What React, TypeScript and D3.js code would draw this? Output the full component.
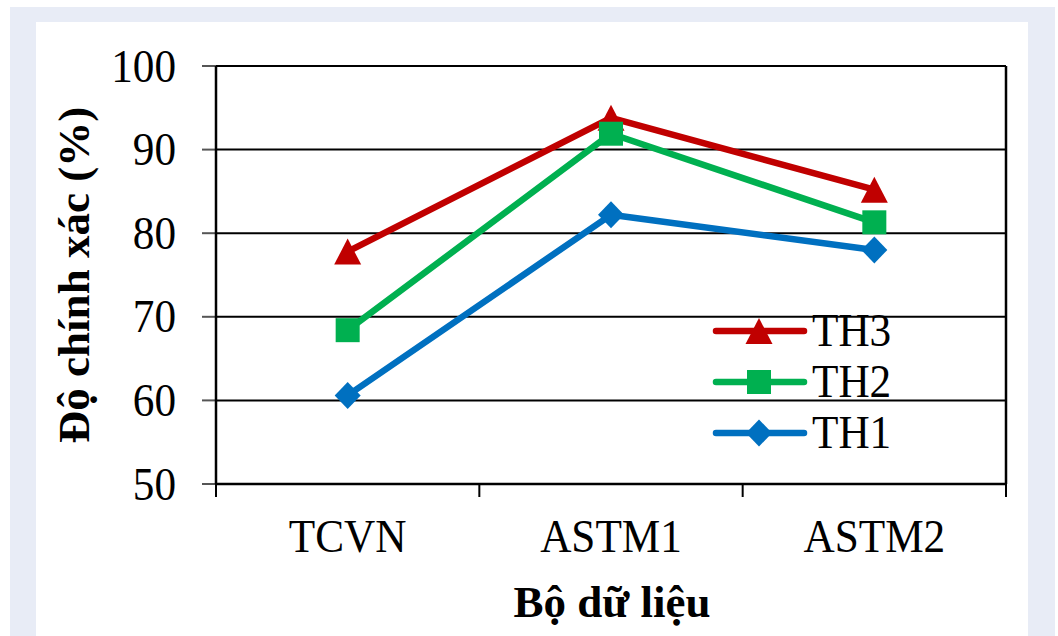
import React from "react";
import * as d3 from "d3";

const categories = ["TCVN", "ASTM1", "ASTM2"];
const seriesNames = ["TH3", "TH2", "TH1"];
const th3 = [77.8, 93.8, 85.2];
const th2 = [68.4, 91.9, 81.3];
const th1 = [60.6, 82.2, 78.0];
const yTicks = [50, 60, 70, 80, 90, 100];

const W = 1058;
const H = 636;
const M = { left: 216, right: 1006, top: 66, bottom: 484 };
const FONT = "'Liberation Serif', 'Times New Roman', serif";
const SX = 0.94;

const series = [
  { name: seriesNames[0], values: th3, color: "#c00000", marker: "triangle" },
  { name: seriesNames[1], values: th2, color: "#00b050", marker: "square" },
  { name: seriesNames[2], values: th1, color: "#0070c0", marker: "diamond" },
];

function Marker({ type, x, y, color }: { type: string; x: number; y: number; color: string }) {
  if (type === "triangle") {
    const w = 27, h = 26;
    return <path d={`M${x},${y - h / 2}L${x + w / 2},${y + h / 2}L${x - w / 2},${y + h / 2}Z`} fill={color} />;
  }
  if (type === "square") {
    const s = 24;
    return <rect x={x - s / 2} y={y - s / 2} width={s} height={s} fill={color} />;
  }
  const w = 26, h = 27;
  return <path d={`M${x},${y - h / 2}L${x + w / 2},${y}L${x},${y + h / 2}L${x - w / 2},${y}Z`} fill={color} />;
}

function SText({ x, y, children, anchor = "middle", size = 46, weight = "normal", sx = SX }: any) {
  return (
    <g transform={`translate(${x},${y}) scale(${sx},1)`}>
      <text x={0} y={0} textAnchor={anchor} fontSize={size} fontWeight={weight} fontFamily={FONT} fill="#000">
        {children}
      </text>
    </g>
  );
}

export default function App() {
  const x = d3.scaleBand().domain(categories).range([M.left, M.right]);
  const y = d3.scaleLinear().domain([50, 100]).range([M.bottom, M.top]);
  const line = d3
    .line<number>()
    .x((_, i) => (x(categories[i]) as number) + x.bandwidth() / 2)
    .y((v) => y(v));
  const bounds = [...categories.map((c) => x(c) as number), M.right];

  const legendY = [331, 382, 433];

  return (
    <div style={{ position: "fixed", left: 0, top: 0 }}>
      <svg width={W} height={H} style={{ display: "block" }}>
        <rect x={0} y={0} width={W} height={H} fill="#fff" />
        <rect x={10} y={7} width={1045} height={H - 7} fill="#e8ecf6" />
        <rect x={36} y={22} width={992} height={H - 22} fill="#fff" />

        {/* grid lines */}
        {yTicks.slice(1).map((t) => (
          <line key={t} x1={M.left} x2={M.right} y1={y(t)} y2={y(t)} stroke="#000" strokeWidth={2} />
        ))}
        {/* y ticks */}
        {yTicks.map((t) => (
          <line key={"yt" + t} x1={202} x2={M.left} y1={y(t)} y2={y(t)} stroke="#555" strokeWidth={2} />
        ))}
        {/* x ticks */}
        {bounds.map((b, i) => (
          <line key={"xt" + i} x1={b} x2={b} y1={M.bottom} y2={497} stroke="#000" strokeWidth={2} />
        ))}
        {/* frame */}
        <line x1={M.right} x2={M.right} y1={M.top} y2={M.bottom} stroke="#000" strokeWidth={2.5} />
        <line x1={M.left} x2={M.left} y1={M.top} y2={M.bottom} stroke="#000" strokeWidth={2.5} />
        <line x1={M.left} x2={M.right} y1={M.bottom} y2={M.bottom} stroke="#000" strokeWidth={2.5} />

        {/* y tick labels */}
        {yTicks.map((t) => (
          <SText key={"yl" + t} x={176} y={y(t) + 15.5} anchor="end">
            {t}
          </SText>
        ))}
        {/* x tick labels */}
        {categories.map((c) => (
          <SText key={c} x={(x(c) as number) + x.bandwidth() / 2} y={552}>
            {c}
          </SText>
        ))}

        {/* axis titles */}
        <SText x={612} y={617} size={45} weight="bold" sx={1}>
          Bộ dữ liệu
        </SText>
        <text
          transform={`translate(89,275) rotate(-90)`}
          textAnchor="middle"
          fontSize={45}
          fontWeight="bold"
          fontFamily={FONT}
          fill="#000"
        >
          Độ chính xác (%)
        </text>

        {/* series lines */}
        {series.map((s) => (
          <path key={s.name} d={line(s.values) || ""} fill="none" stroke={s.color} strokeWidth={6.5} strokeLinejoin="round" />
        ))}
        {series.map((s) =>
          s.values.map((v, i) => (
            <Marker
              key={s.name + i}
              type={s.marker}
              x={(x(categories[i]) as number) + x.bandwidth() / 2}
              y={y(v)}
              color={s.color}
            />
          ))
        )}

        {/* legend */}
        {series.map((s, i) => (
          <g key={"lg" + s.name}>
            <line x1={716} x2={804} y1={legendY[i]} y2={legendY[i]} stroke={s.color} strokeWidth={6.5} strokeLinecap="round" />
            <Marker type={s.marker} x={759} y={legendY[i]} color={s.color} />
            <SText x={812} y={legendY[i] + 15} anchor="start">
              {s.name}
            </SText>
          </g>
        ))}
      </svg>
    </div>
  );
}
